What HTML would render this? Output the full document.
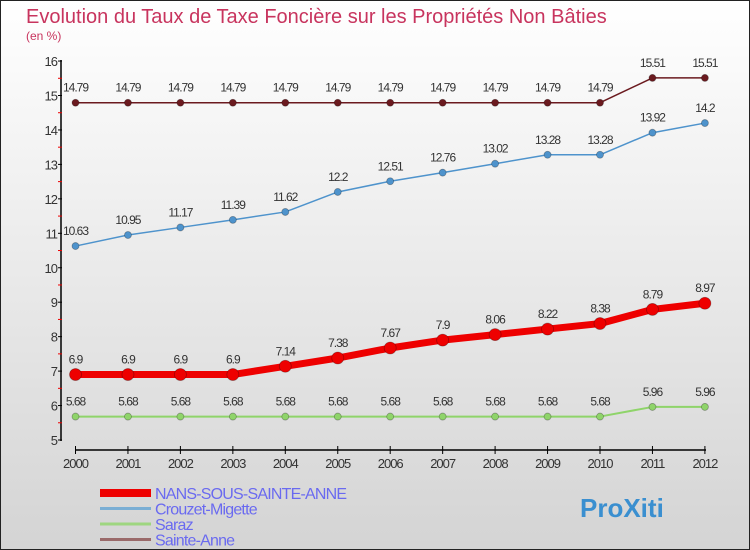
<!DOCTYPE html>
<html><head><meta charset="utf-8"><style>
html,body{margin:0;padding:0}
body{width:750px;height:550px;overflow:hidden;font-family:"Liberation Sans",sans-serif}
#c{position:absolute;left:0;top:0;width:748px;height:548px;border:1px solid #222;background:linear-gradient(#ffffff,#d4d4d4)}
</style></head><body>
<div id="c">
<svg id="s" width="750" height="550" style="position:absolute;left:-1px;top:-1px">
<text x="26" y="23" font-size="20" fill="#c8345e">Evolution du Taux de Taxe Foncière sur les Propriétés Non Bâties</text>
<text x="26" y="40" font-size="12" fill="#c8345e">(en %)</text>
<g id="g"></g>
</svg>
</div>
<script>
const years=[2000,2001,2002,2003,2004,2005,2006,2007,2008,2009,2010,2011,2012];
const nans=[6.9,6.9,6.9,6.9,7.14,7.38,7.67,7.9,8.06,8.22,8.38,8.79,8.97];
const crouzet=[10.63,10.95,11.17,11.39,11.62,12.2,12.51,12.76,13.02,13.28,13.28,13.92,14.2];
const saraz=[5.68,5.68,5.68,5.68,5.68,5.68,5.68,5.68,5.68,5.68,5.68,5.96,5.96];
const sainte=[14.79,14.79,14.79,14.79,14.79,14.79,14.79,14.79,14.79,14.79,14.79,15.51,15.51];
const labelsNans=["6.9","6.9","6.9","6.9","7.14","7.38","7.67","7.9","8.06","8.22","8.38","8.79","8.97"];
const labelsCrouzet=["10.63","10.95","11.17","11.39","11.62","12.2","12.51","12.76","13.02","13.28","13.28","13.92","14.2"];
const labelsSaraz=["5.68","5.68","5.68","5.68","5.68","5.68","5.68","5.68","5.68","5.68","5.68","5.96","5.96"];
const labelsSainte=["14.79","14.79","14.79","14.79","14.79","14.79","14.79","14.79","14.79","14.79","14.79","15.51","15.51"];
const yTicks=[5,6,7,8,9,10,11,12,13,14,15,16];
const NS="http://www.w3.org/2000/svg";
const g=document.getElementById('g');
const X=i=>75.5+i*52.45;
const Y=v=>440-(v-5)*34.45;
function el(t,a){const e=document.createElementNS(NS,t);for(const k in a)e.setAttribute(k,a[k]);g.appendChild(e);return e;}
let e=el('line',{x1:61,y1:60,x2:61,y2:441,stroke:'#000','stroke-width':1.5});


e=el('line',{x1:75,y1:450,x2:706,y2:450,stroke:'#000','stroke-width':1.5});


yTicks.forEach(v=>{
 el('line',{x1:58,x2:62,y1:Y(v),y2:Y(v),stroke:'#000'});
 if(v<16)el('line',{x1:58,x2:62,y1:Y(v+0.5),y2:Y(v+0.5),stroke:'#e00'});
 const t=el('text',{x:57,y:Y(v)+5,'font-size':13,fill:'#333','text-anchor':'end','letter-spacing':'-1'});
 t.textContent=v;
 
 
});
years.forEach((y,i)=>{
 el('line',{x1:X(i),x2:X(i),y1:446,y2:454,stroke:'#000'});
 const t=el('text',{x:X(i),y:468,'font-size':13,fill:'#333','text-anchor':'middle','letter-spacing':'-1'});
 t.textContent=y;
 
 
});
function series(vals,labels,color,w,r,name){
 const p=el('polyline',{points:vals.map((v,i)=>X(i)+','+Y(v)).join(' '),fill:'none',stroke:color,'stroke-width':w,'stroke-linejoin':'round'});
 
 
 vals.forEach((v,i)=>{
  const c=el('circle',{cx:X(i),cy:Y(v),r:r,fill:color,stroke:'rgba(0,0,0,0.3)','stroke-width':0.8});
  
  
  const t=el('text',{x:X(i),y:Y(v)-11,'font-size':12,fill:'#333','text-anchor':'middle','letter-spacing':'-1'});
  t.textContent=labels[i];
  
  
 });
}
series(saraz,labelsSaraz,'#8fd46a',2,3.5,'saraz');
series(sainte,labelsSainte,'#6b1a1f',1.5,3.5,'sainte-anne');
series(crouzet,labelsCrouzet,'#4e93cc',1.5,3.5,'crouzet-migette');
series(nans,labelsNans,'#ee0000',7,6,'nans-sous-sainte-anne');
const leg=[['NANS-SOUS-SAINTE-ANNE','#ee0000',8],['Crouzet-Migette','#7aaed4',3],['Saraz','#9ed680',3],['Sainte-Anne','#9a6a6a',3]];
leg.forEach((l,i)=>{
 const y=493+i*15.5;
 const ln=el('line',{x1:100,x2:151,y1:y,y2:y,stroke:l[1],'stroke-width':l[2]});
 
 
 const t=el('text',{x:155,y:y+6,'font-size':16,fill:'#6a6af0','letter-spacing':'-0.8'});
 t.textContent=l[0];
 
 
});
const lg=el('text',{x:580,y:517,'font-size':26,'font-weight':'bold',fill:'#3a8fd0'});
lg.textContent='ProXiti';


</script>
</body></html>
